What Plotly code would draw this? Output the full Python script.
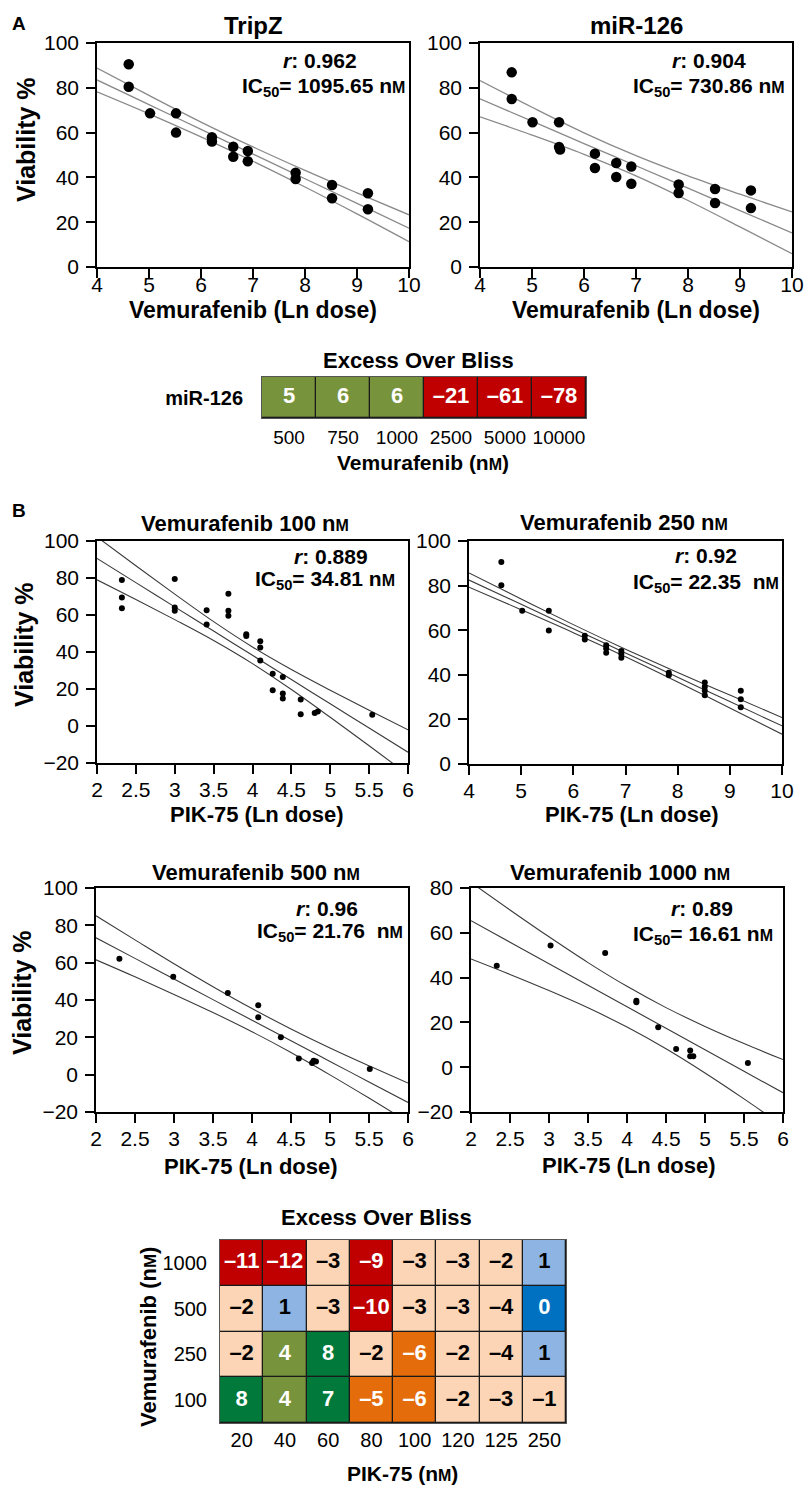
import plotly.graph_objects as go

W, H = 804, 1485
FONT = "Liberation Sans, Arial, sans-serif"

# ---------------- data ----------------
# Panel A: viability vs Vemurafenib (ln dose)
tripz_x = [4.61, 4.61, 5.02, 5.52, 5.52, 6.21, 6.21, 6.62, 6.62, 6.90, 6.90, 7.82, 7.82, 8.52, 8.52, 9.21, 9.21]
tripz_y = [90.5, 80.5, 68.6, 68.6, 60.0, 57.9, 56.0, 53.7, 49.2, 51.8, 47.2, 42.1, 39.3, 36.6, 30.7, 32.9, 25.8]
mir_x = [4.61, 4.61, 5.01, 5.52, 5.52, 5.54, 6.21, 6.21, 6.62, 6.62, 6.91, 6.91, 7.82, 7.82, 8.52, 8.52, 9.21, 9.21]
mir_y = [86.9, 75.0, 64.6, 64.6, 53.6, 52.4, 50.6, 44.2, 46.4, 40.2, 44.9, 37.2, 36.8, 33.0, 34.8, 28.6, 34.2, 26.3]

fitA_x = [4, 5, 6, 7, 8, 9, 10]
tripz_up = [88.8, 76.6, 64.7, 53.6, 43.1, 33.1, 23.3]
tripz_mid = [83.5, 72.5, 61.4, 50.4, 39.4, 28.4, 17.3]
tripz_lo = [78.2, 68.4, 58.1, 47.2, 35.7, 23.7, 11.3]
mir_up = [83.2, 71.3, 59.9, 49.7, 40.7, 32.5, 24.6]
mir_mid = [75.1, 65.1, 55.1, 45.2, 35.2, 25.2, 15.2]
mir_lo = [67.0, 58.9, 50.3, 40.7, 29.7, 17.9, 5.9]

# Panel B: viability vs PIK-75 (ln dose) at fixed Vemurafenib
v100_x = [2.32, 2.32, 2.32, 3.00, 3.00, 3.00, 3.41, 3.41, 3.69, 3.69, 3.69, 3.92, 3.92, 4.10, 4.10, 4.10,
          4.26, 4.26, 4.39, 4.39, 4.39, 4.62, 4.62, 4.80, 4.84, 5.54]
v100_y = [78.9, 69.5, 63.7, 79.4, 64.1, 62.3, 62.6, 54.9, 71.5, 62.3, 59.6, 49.6, 48.6, 45.8, 42.4, 35.4,
          28.2, 19.3, 26.5, 17.5, 14.8, 14.3, 6.3, 7.0, 7.8, 6.1]
v250_x = [4.62, 4.62, 5.02, 5.53, 5.53, 6.22, 6.22, 6.63, 6.63, 6.63, 6.92, 6.92, 6.92, 7.83, 7.83,
          8.52, 8.52, 8.52, 8.52, 9.21, 9.21, 9.21]
v250_y = [90.6, 80.2, 68.7, 68.7, 59.9, 57.5, 55.8, 53.3, 51.8, 49.9, 50.7, 49.3, 47.6, 40.9, 39.8,
          36.5, 34.6, 32.8, 30.8, 32.8, 29.0, 25.4]
v500_x = [2.30, 2.99, 3.69, 4.08, 4.08, 4.37, 4.60, 4.77, 4.79, 4.82, 5.51]
v500_y = [62.1, 52.5, 43.7, 37.2, 30.7, 20.1, 8.7, 6.2, 7.4, 7.1, 3.0]
v1000_x = [2.33, 3.02, 3.72, 4.12, 4.12, 4.40, 4.63, 4.81, 4.81, 4.85, 5.55]
v1000_y = [45.3, 54.3, 51.0, 29.7, 29.0, 17.8, 8.1, 7.4, 4.9, 4.9, 1.9]

fitB_x = [2, 2.5, 3, 3.5, 4, 4.5, 5, 5.5, 6]
v100_up = [102.2, 86.6, 71.3, 56.4, 42.7, 30.5, 19.3, 8.5, -2.1]
v100_mid = [90.6, 77.5, 64.4, 51.3, 38.2, 25.1, 12.0, -1.1, -14.2]
v100_lo = [79.0, 68.4, 57.5, 46.2, 33.7, 19.7, 4.7, -10.7, -26.3]
v500_up = [85.1, 72.2, 59.4, 47.1, 35.4, 24.5, 14.3, 4.75, -4.5]
v500_mid = [73.3, 62.3, 51.2, 40.2, 29.2, 18.2, 7.1, -3.9, -14.9]
v500_lo = [61.5, 52.4, 43.0, 33.3, 23.0, 11.9, -0.1, -12.55, -25.3]
v1000_up = [82.5, 70.2, 58.2, 46.7, 36.1, 26.6, 18.2, 10.55, 3.4]
v1000_mid = [65.4, 55.8, 46.2, 36.6, 27.0, 17.4, 7.8, -1.8, -11.4]
v1000_lo = [48.3, 41.4, 34.2, 26.5, 17.9, 8.2, -2.6, -14.15, -26.2]
v250_up = [85.7, 74.0, 62.5, 51.5, 41.0, 30.9, 20.85]
v250_mid = [82.5, 71.6, 60.7, 49.8, 38.9, 28.0, 17.1]
v250_lo = [79.3, 69.2, 58.9, 48.1, 36.8, 25.1, 13.35]

# Excess over Bliss tables
eobA_doses = ["500", "750", "1000", "2500", "5000", "10000"]
eobA_rows = ["miR-126"]
eobA_values = [[5, 6, 6, -21, -61, -78]]

eobB_pik = ["20", "40", "60", "80", "100", "120", "125", "250"]
eobB_vem = ["100", "250", "500", "1000"]
eobB_values = [
    [8, 4, 7, -5, -6, -2, -3, -1],       # 100
    [-2, 4, 8, -2, -6, -2, -4, 1],       # 250
    [-2, 1, -3, -10, -3, -3, -4, 0],     # 500
    [-11, -12, -3, -9, -3, -3, -2, 1],   # 1000
]

# ---------------- styling helpers ----------------
CLASS_COLORS = ["#C00000", "#E46C0A", "#FBD5B5", "#0070C0", "#8EB4E3", "#77933C", "#00793A"]
CLASS_TEXT = ["white", "white", "black", "white", "black", "white", "white"]


def eob_class(v):
    if v <= -7:
        return 0
    if v <= -5:
        return 1
    if v <= -1:
        return 2
    if v == 0:
        return 3
    if v == 1:
        return 4
    if v <= 6:
        return 5
    return 6


def dash(v):
    return str(v).replace("-", "\u2013")


def PX(px):
    return px / W


def PY(py):
    return 1 - py / H


def nm(size):
    return 'n<span style="font-size:%dpx">M</span>' % size


fig = go.Figure()
layout = dict(
    width=W, height=H, autosize=False,
    margin=dict(l=0, r=0, t=0, b=0, autoexpand=False),
    paper_bgcolor="white", plot_bgcolor="white",
    showlegend=False,
    font=dict(family=FONT, color="black", size=20),
)

panels = [
    dict(n=1, x=tripz_x, y=tripz_y, fx=fitA_x, up=tripz_up, mid=tripz_mid, lo=tripz_lo,
         dom=(97, 409, 43, 267), xr=[4, 10], yr=[0, 100], xd=1, ms=10.5, lc="#8a8a8a", lw=1.3, so=-11),
    dict(n=2, x=mir_x, y=mir_y, fx=fitA_x, up=mir_up, mid=mir_mid, lo=mir_lo,
         dom=(480, 792, 43, 267), xr=[4, 10], yr=[0, 100], xd=1, ms=10.5, lc="#8a8a8a", lw=1.3, so=-11),
    dict(n=3, x=v100_x, y=v100_y, fx=fitB_x, up=v100_up, mid=v100_mid, lo=v100_lo,
         dom=(97, 408, 541, 763), xr=[2, 6], yr=[-20, 100], xd=0.5, ms=6, lc="#3a3a3a", lw=1.1, so=-2),
    dict(n=4, x=v250_x, y=v250_y, fx=fitA_x, up=v250_up, mid=v250_mid, lo=v250_lo,
         dom=(469, 782, 541, 764), xr=[4, 10], yr=[0, 100], xd=1, ms=6, lc="#3a3a3a", lw=1.1, so=-2),
    dict(n=5, x=v500_x, y=v500_y, fx=fitB_x, up=v500_up, mid=v500_mid, lo=v500_lo,
         dom=(96, 408, 888, 1112), xr=[2, 6], yr=[-20, 100], xd=0.5, ms=6, lc="#3a3a3a", lw=1.1, so=-2),
    dict(n=6, x=v1000_x, y=v1000_y, fx=fitB_x, up=v1000_up, mid=v1000_mid, lo=v1000_lo,
         dom=(471, 783, 888, 1112), xr=[2, 6], yr=[-20, 80], xd=0.5, ms=6, lc="#3a3a3a", lw=1.1, so=-2),
]

for p in panels:
    n = p["n"]
    xa, ya = ("x%d" % n, "y%d" % n)
    for band in (p["up"], p["mid"], p["lo"]):
        fig.add_trace(go.Scatter(x=p["fx"], y=band, mode="lines", xaxis=xa, yaxis=ya,
                                 line=dict(color=p["lc"], width=p["lw"], shape="spline"),
                                 hoverinfo="skip"))
    fig.add_trace(go.Scatter(x=p["x"], y=p["y"], mode="markers", xaxis=xa, yaxis=ya,
                             marker=dict(color="black", size=p["ms"], line=dict(width=0)),
                             cliponaxis=False))
    x0, x1, y0, y1 = p["dom"]
    axis_common = dict(showgrid=False, zeroline=False, showline=True, mirror=True,
                       linecolor="black", linewidth=1.6, ticks="outside", ticklen=9,
                       tickwidth=1.5, tickcolor="black", automargin=False,
                       tickfont=dict(family=FONT, size=21, color="black"))
    layout["xaxis%d" % n] = dict(axis_common, domain=[PX(x0), PX(x1)], anchor=ya,
                                 range=p["xr"], dtick=p["xd"], tick0=p["xr"][0],
                                 ticklabelstandoff=p["so"])
    layout["yaxis%d" % n] = dict(axis_common, domain=[PY(y1), PY(y0)], anchor=xa,
                                 range=p["yr"], dtick=20, tick0=0, ticklabelstandoff=3)


# ---- heatmaps ----
def add_heat(n, cols, rows, values, dom, tick_size, val_size, row_font, row_standoff, x_standoff):
    xa, ya = ("x%d" % n, "y%d" % n)
    zc = [[eob_class(v) for v in r] for r in values]
    nc = len(CLASS_COLORS)
    cs = []
    for i, c in enumerate(CLASS_COLORS):
        cs.append([i / nc, c])
        cs.append([(i + 1) / nc, c])
    fig.add_trace(go.Heatmap(z=zc, x=cols, y=rows, xaxis=xa, yaxis=ya, colorscale=cs,
                             zmin=-0.5, zmax=nc - 0.5, showscale=False, xgap=1.3, ygap=1.3,
                             hoverinfo="skip"))
    tx, ty, tt, tcol = [], [], [], []
    for ri, r in enumerate(values):
        for ci, v in enumerate(r):
            tx.append(cols[ci])
            ty.append(rows[ri])
            tt.append("<b>%s</b>" % dash(v))
            tcol.append(CLASS_TEXT[eob_class(v)])
    fig.add_trace(go.Scatter(x=tx, y=ty, text=tt, mode="text", xaxis=xa, yaxis=ya,
                             textfont=dict(family=FONT, size=val_size, color=tcol),
                             textposition="middle center", hoverinfo="skip"))
    x0, x1, y0, y1 = dom
    layout["xaxis%d" % n] = dict(domain=[PX(x0), PX(x1)], anchor=ya, type="category",
                                 categoryorder="array", categoryarray=cols,
                                 showgrid=False, zeroline=False, showline=True, mirror=True,
                                 linecolor="#555555", linewidth=1, ticks="", tickangle=0,
                                 automargin=False,
                                 tickfont=dict(family=FONT, size=tick_size, color="black"),
                                 ticklabelstandoff=x_standoff)
    layout["yaxis%d" % n] = dict(domain=[PY(y1), PY(y0)], anchor=xa, type="category",
                                 categoryorder="array", categoryarray=rows,
                                 showgrid=False, zeroline=False, showline=True, mirror=True,
                                 linecolor="#555555", linewidth=1, ticks="", automargin=False,
                                 tickfont=row_font, ticklabelstandoff=row_standoff)
    layout.setdefault("shapes", []).append(
        dict(type="rect", xref="%s domain" % xa, yref="%s domain" % ya, x0=0, x1=1, y0=0, y1=1,
             fillcolor="#1a1a1a", line=dict(width=0), layer="below"))


add_heat(7, eobA_doses, eobA_rows, eobA_values, (262, 586, 377, 418), 19, 22,
         dict(family=FONT, size=20, color="black"), 14, 2)
layout["yaxis7"]["tickvals"] = eobA_rows
layout["yaxis7"]["ticktext"] = ["<b>miR-126</b>"]
add_heat(8, eobB_pik, eobB_vem, eobB_values, (220, 566, 1240, 1423), 20, 22,
         dict(family=FONT, size=20, color="black"), 8, -1)

# ---------------- annotations ----------------
ann = []


def txt(x, y, s, size, angle=0, xanchor="center"):
    ann.append(dict(x=PX(x), y=PY(y), xref="paper", yref="paper", text=s, showarrow=False,
                    xanchor=xanchor, yanchor="middle", textangle=angle,
                    font=dict(family=FONT, size=size, color="black")))


txt(19, 24, "<b>A</b>", 19)
txt(19, 510, "<b>B</b>", 19)

# panel A
txt(253, 25, "<b>TripZ</b>", 24)
txt(636, 25, "<b>miR-126</b>", 24)
txt(320, 60, "<b><i>r</i>: 0.962</b>", 21)
txt(323, 87, "<b>IC<sub>50</sub>= 1095.65 " + nm(16) + "</b>", 21)
txt(709, 60, "<b><i>r</i>: 0.904</b>", 21)
txt(709, 87, "<b>IC<sub>50</sub>= 730.86 " + nm(16) + "</b>", 21)
txt(253, 310, "<b>Vemurafenib (Ln dose)</b>", 23)
txt(636, 310, "<b>Vemurafenib (Ln dose)</b>", 23)
txt(26, 140, "<b>Viability %</b>", 25, angle=-90)

txt(418, 360, "<b>Excess Over Bliss</b>", 22)
txt(423, 463, "<b>Vemurafenib (" + nm(16) + ")</b>", 21)

# panel B
txt(245, 523, "<b>Vemurafenib 100 " + nm(16) + "</b>", 22)
txt(624, 522, "<b>Vemurafenib 250 " + nm(16) + "</b>", 22)
txt(256, 872, "<b>Vemurafenib 500 " + nm(16) + "</b>", 22)
txt(620, 872, "<b>Vemurafenib 1000 " + nm(16) + "</b>", 22)

txt(331, 556, "<b><i>r</i>: 0.889</b>", 21)
txt(325, 580, "<b>IC<sub>50</sub>= 34.81 " + nm(16) + "</b>", 21)
txt(706, 555, "<b><i>r</i>: 0.92</b>", 21)
txt(706, 583, "<b>IC<sub>50</sub>= 22.35\u00a0 " + nm(16) + "</b>", 21)
txt(327, 908, "<b><i>r</i>: 0.96</b>", 21)
txt(330, 932, "<b>IC<sub>50</sub>= 21.76\u00a0 " + nm(16) + "</b>", 21)
txt(702, 908, "<b><i>r</i>: 0.89</b>", 21)
txt(703, 935, "<b>IC<sub>50</sub>= 16.61 " + nm(16) + "</b>", 21)

txt(257, 814, "<b>PIK-75 (Ln dose)</b>", 22)
txt(632, 814, "<b>PIK-75 (Ln dose)</b>", 22)
txt(251, 1166, "<b>PIK-75 (Ln dose)</b>", 22)
txt(629, 1165, "<b>PIK-75 (Ln dose)</b>", 22)
txt(24, 645, "<b>Viability %</b>", 25, angle=-90)
txt(22, 993, "<b>Viability %</b>", 25, angle=-90)

txt(376, 1217, "<b>Excess Over Bliss</b>", 22)
txt(402, 1473, "<b>PIK-75 (" + nm(16) + ")</b>", 21)
txt(148, 1337, "<b>Vemurafenib (" + nm(17) + ")</b>", 22, angle=-90)

layout["annotations"] = ann
fig.update_layout(**layout)
fig.write_html(
    "out.html",
    config={"displayModeBar": False},
    post_script="document.documentElement.style.margin='0';document.body.style.margin='0';"
                "document.body.style.overflow='hidden';",
)
